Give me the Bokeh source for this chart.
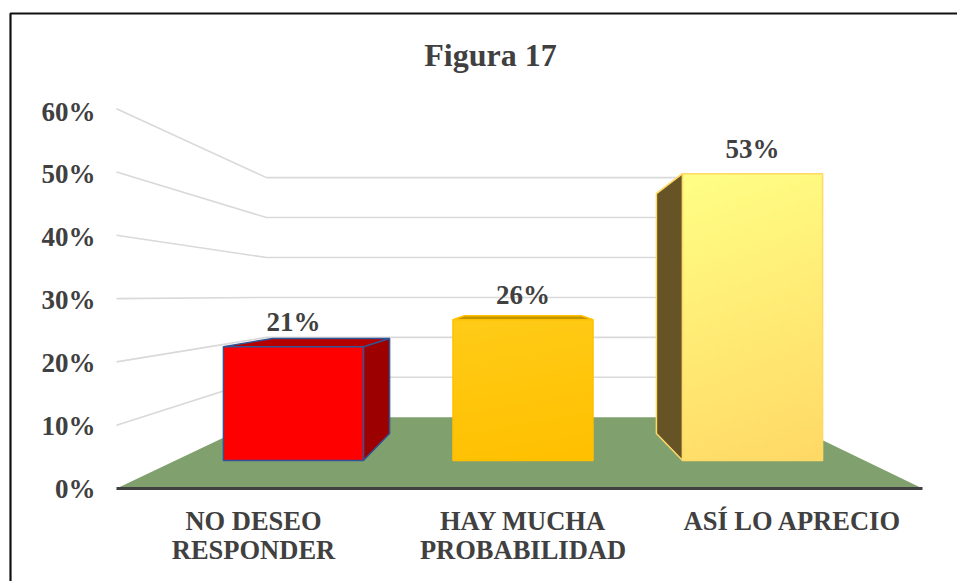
from bokeh.plotting import figure
from bokeh.embed import file_html
from bokeh.resources import INLINE
from bokeh.models import Range1d, FixedTicker, LinearAxis
from bokeh.core.properties import value
import numpy as np

# --- data -----------------------------------------------------------------
title_text = "Figura 17"
categories = ["NO DESEO\nRESPONDER", "HAY MUCHA\nPROBABILIDAD", "ASÍ LO APRECIO"]
values = [21, 26, 53]
labels = ["21%", "26%", "53%"]
y_ticks = [0, 10, 20, 30, 40, 50, 60]
y_tick_labels = ["0%", "10%", "20%", "30%", "40%", "50%", "60%"]

# --- styles ---------------------------------------------------------------
TXT = "#404040"
GRID = "#d9d9d9"
FLOOR = "#80a06e"
FONT = "Liberation Serif"
top_col = ["#b60000", "#c49400", "#ffef80"]
side_col = ["#9c0000", "#9c7400", "#665427"]
edge_col = ["#2f5597", "#ffc000", "#ffd966"]
grads = [((255, 0, 0), (255, 0, 0)), ((255, 204, 24), (255, 192, 0)), ((255, 255, 133), (255, 217, 102))]

W, H = 957, 581
PX_PER_CAT, PX_PER_VAL = 268.5, 6.33     # front-plane scale
CAT0_PX, ZERO_PX = 254.0, 488.0          # where category 0 and value 0 sit


def xd(px):
    return (px - CAT0_PX) / PX_PER_CAT


def yd(py):
    return (ZERO_PX - py) / PX_PER_VAL


X_MIN, X_MAX = xd(116), xd(922)          # ends of the front floor edge
VP_X, VP_Y = 1.0, 30.5                   # vanishing point of the 3D view
K_FRONT, K_BACK, K_WALL = 0.145, 0.285, 0.369   # depth of bar front/back and wall
HALF = 0.305


def proj(x, v, k):
    return x + (VP_X - x) * k, v + (VP_Y - v) * k


def poly(pts):
    return [q[0] for q in pts], [q[1] for q in pts]


p = figure(width=W, height=H, output_backend="svg", toolbar_location=None,
           x_range=Range1d(xd(0), xd(W)), y_range=Range1d(yd(H), yd(0)),
           x_axis_location=None, y_axis_location=None,
           min_border_left=0, min_border_right=0, min_border_top=0, min_border_bottom=0,
           title=None)
p.outline_line_color = None
p.background_fill_color = "white"
p.border_fill_color = "white"
p.grid.visible = False

# the labels of the Excel 3D axes run on slightly different scales than the bars
LABEL_PX = 6.283
CAT_LABEL_PX, CAT_LABEL0 = 269.5, 253.0
p.extra_y_ranges = {"labels": Range1d((ZERO_PX - H) / LABEL_PX, ZERO_PX / LABEL_PX)}
p.extra_x_ranges = {"cats": Range1d((0 - CAT_LABEL0) / CAT_LABEL_PX, (W - CAT_LABEL0) / CAT_LABEL_PX)}

yaxis = LinearAxis(y_range_name="labels", fixed_location=X_MIN, ticker=FixedTicker(ticks=y_ticks),
                   major_label_overrides={k: v for k, v in zip(y_ticks, y_tick_labels)},
                   axis_line_color=None, major_tick_line_color=None, minor_tick_line_color=None,
                   major_label_standoff=15, major_label_text_font=FONT,
                   major_label_text_font_size="27px", major_label_text_font_style="bold",
                   major_label_text_color=TXT)
p.add_layout(yaxis, "left")

xaxis = LinearAxis(x_range_name="cats", fixed_location=0,
                   bounds=((116 - CAT_LABEL0) / CAT_LABEL_PX, (922 - CAT_LABEL0) / CAT_LABEL_PX),
                   ticker=FixedTicker(ticks=[0, 1, 2]),
                   major_label_overrides={i: c for i, c in enumerate(categories)},
                   axis_line_color=TXT, axis_line_width=3, major_tick_line_color=None,
                   minor_tick_line_color=None, major_label_standoff=11, major_label_text_font=FONT,
                   major_label_text_font_size="26.5px", major_label_text_font_style="bold",
                   major_label_text_color=TXT, major_label_text_line_height=0.97)
p.add_layout(xaxis, "below")

# wall gridlines
for v in y_ticks[1:]:
    xs, ys = poly([proj(X_MIN, v, 0), proj(X_MIN, v, K_WALL), proj(X_MAX, v, K_WALL)])
    p.line(xs, ys, line_color=GRID, line_width=1.6)

# floor
xs, ys = poly([proj(X_MIN, 0, 0), proj(X_MAX, 0, 0), proj(X_MAX, 0, K_WALL), proj(X_MIN, 0, K_WALL)])
p.patch(xs, ys, fill_color=FLOOR, line_color=None)


def gradient(c_tl, c_br, n=60):
    c_tl, c_br = np.array(c_tl, float), np.array(c_br, float)
    img = np.zeros((n, n), dtype=np.uint32)
    view = img.view(np.uint8).reshape((n, n, 4))
    for r in range(n):          # row 0 = bottom
        for c in range(n):
            t_ = 0.85 * (1 - r / (n - 1)) + 0.15 * (c / (n - 1))
            view[r, c, :3] = (c_tl + (c_br - c_tl) * t_).astype(np.uint8)
            view[r, c, 3] = 255
    return img


for i, val in enumerate(values):
    l, r = i - HALF, i + HALF
    fl0, fr0 = proj(l, 0, K_FRONT), proj(r, 0, K_FRONT)
    fl1, fr1 = proj(l, val, K_FRONT), proj(r, val, K_FRONT)
    bl0, br0 = proj(l, 0, K_BACK), proj(r, 0, K_BACK)
    bl1, br1 = proj(l, val, K_BACK), proj(r, val, K_BACK)

    # top face
    xs, ys = poly([fl1, fr1, br1, bl1])
    p.patch(xs, ys, fill_color=top_col[i], line_color=edge_col[i], line_width=1.5)
    # side faces visible by perspective
    if r < VP_X:
        xs, ys = poly([fr0, br0, br1, fr1])
        p.patch(xs, ys, fill_color=side_col[i], line_color=edge_col[i], line_width=1.5)
    if l > VP_X:
        xs, ys = poly([fl0, bl0, bl1, fl1])
        p.patch(xs, ys, fill_color=side_col[i], line_color=edge_col[i], line_width=1.5)
    # front face
    xs, ys = poly([fl0, fr0, fr1, fl1])
    p.image_rgba(image=[gradient(*grads[i])], x=fl0[0], y=fl0[1],
                 dw=fr0[0] - fl0[0], dh=fl1[1] - fl0[1])
    p.patch(xs, ys, fill_color=None, line_color=edge_col[i], line_width=1.5)
    # data label
    p.text([(fl1[0] + fr1[0]) / 2], [fl1[1]], text=[labels[i]], text_align="center",
           text_baseline="middle", y_offset=-24.5, text_font=value(FONT),
           text_font_size="27px", text_font_style="bold", text_color=TXT)

# title
p.text([xd(490)], [yd(54)], text=[title_text], text_align="center", text_baseline="middle",
       text_font=value(FONT), text_font_size="32px", text_font_style="bold", text_color=TXT)

# frame of the picture: only its top and left sides are in view
p.line([xd(10), xd(10), xd(W)], [yd(H), yd(13), yd(13)], line_color="#111111", line_width=2.2)

open("out.html", "w").write(file_html(p, INLINE))
